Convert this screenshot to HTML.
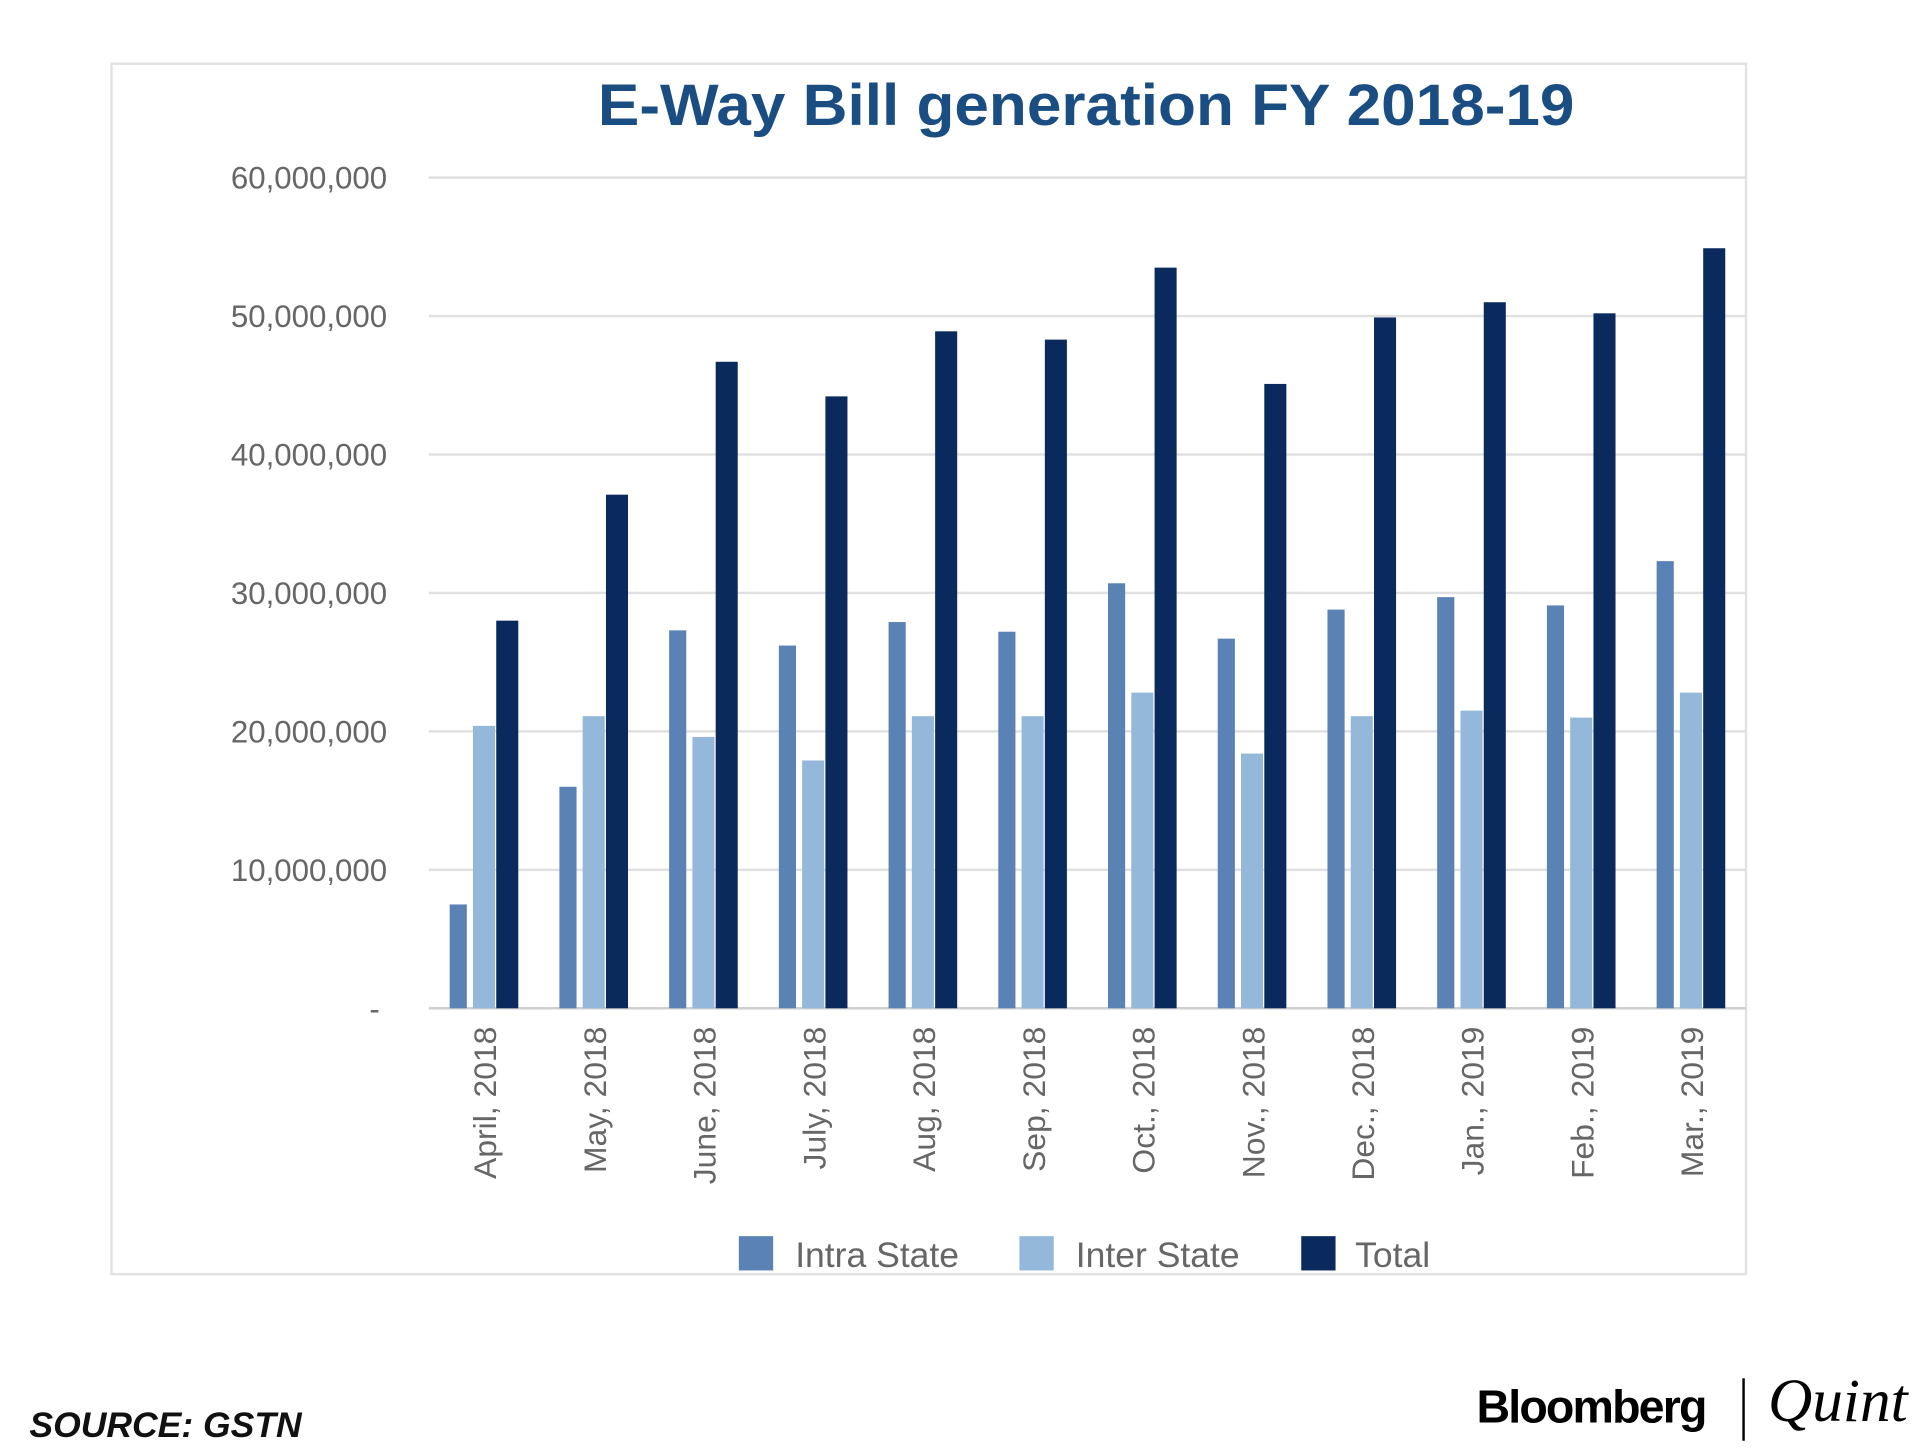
<!DOCTYPE html>
<html><head><meta charset="utf-8"><style>html,body{margin:0;padding:0;background:#fff}svg{display:block}</style></head>
<body>
<svg width="1920" height="1453" viewBox="0 0 1567 1186" preserveAspectRatio="none" xmlns="http://www.w3.org/2000/svg" font-family="Liberation Sans, Arial, sans-serif">
<rect x="91" y="52" width="1334" height="988" fill="#fff" stroke="#e2e2e2" stroke-width="2"/>
<text x="488" y="102" textLength="797" lengthAdjust="spacingAndGlyphs" font-size="48" font-weight="bold" fill="#1a4e82">E-Way Bill generation FY 2018-19</text>
<g id="grid"></g><g id="bars"></g><g id="xl"></g>
<g font-size="29" fill="#666">
<rect x="603" y="1009" width="28" height="28" fill="#5b82b5"/>
<text x="649" y="1034">Intra State</text>
<rect x="832" y="1009" width="28" height="28" fill="#94b8da"/>
<text x="878" y="1034">Inter State</text>
<rect x="1062" y="1009" width="28" height="28" fill="#0a2a5e"/>
<text x="1106" y="1034">Total</text>
</g>
<text x="24" y="1173" font-size="29" font-weight="bold" font-style="italic" fill="#111">SOURCE: GSTN</text>
<text x="1205" y="1161" font-size="38" font-weight="bold" fill="#000" letter-spacing="-1.5">Bloomberg</text>
<line x1="1423" y1="1125" x2="1423" y2="1176" stroke="#000" stroke-width="2"/>
<text x="1443" y="1160" font-size="50" font-style="italic" font-family="Liberation Serif, serif" fill="#000">Quint</text>
</svg>
<script>
const categories=["April, 2018","May, 2018","June, 2018","July, 2018","Aug, 2018","Sep, 2018","Oct., 2018","Nov., 2018","Dec., 2018","Jan., 2019","Feb., 2019","Mar., 2019"];
const intraState=[7.5,16.0,27.3,26.2,27.9,27.2,30.7,26.7,28.8,29.7,29.1,32.3];
const interState=[20.4,21.1,19.6,17.9,21.1,21.1,22.8,18.4,21.1,21.5,21.0,22.8];
const total=[28.0,37.1,46.7,44.2,48.9,48.3,53.5,45.1,49.9,51.0,50.2,54.9];
const yTicks=[0,10,20,30,40,50,60];
const yTickLabels=["-","10,000,000","20,000,000","30,000,000","40,000,000","50,000,000","60,000,000"];
const NS="http://www.w3.org/2000/svg";
const y=v=>823-v*11.3;
const x=i=>357+i*89.55;
function mk(t,a,p){const e=document.createElementNS(NS,t);for(const k in a)e.setAttribute(k,a[k]);p.appendChild(e);return e;}
const grid=document.getElementById('grid'),bars=document.getElementById('bars'),xl=document.getElementById('xl');
yTicks.forEach((v,i)=>{
 const l=mk('line',{x1:350,x2:1425,y1:y(v),y2:y(v),stroke:i==0?'#cfcfcf':'#e0e0e0','stroke-width':2},grid);
 
 
 const t=mk('text',{x:i==0?310:316,y:y(v)+9,'text-anchor':'end','font-size':25.5,fill:'#666'},grid);
 t.textContent=yTickLabels[i];
 
 
});
const series=[[intraState,'#5b82b5',10,14],[interState,'#94b8da',29,18],[total,'#0a2a5e',48,18]];
categories.forEach((c,i)=>{
 series.forEach((s,j)=>{
  const v=s[0][i];
  const r=mk('rect',{x:x(i)+s[2],y:y(v),width:s[3],height:v*11.3,fill:s[1]},bars);
  
  
 });
 const cx=x(i)+48;
 const t=mk('text',{x:0,y:0,transform:`translate(${cx},838) rotate(-90)`,'text-anchor':'end','font-size':26,fill:'#666'},xl);
 t.textContent=c;
 
 
});
</script>
</body></html>
